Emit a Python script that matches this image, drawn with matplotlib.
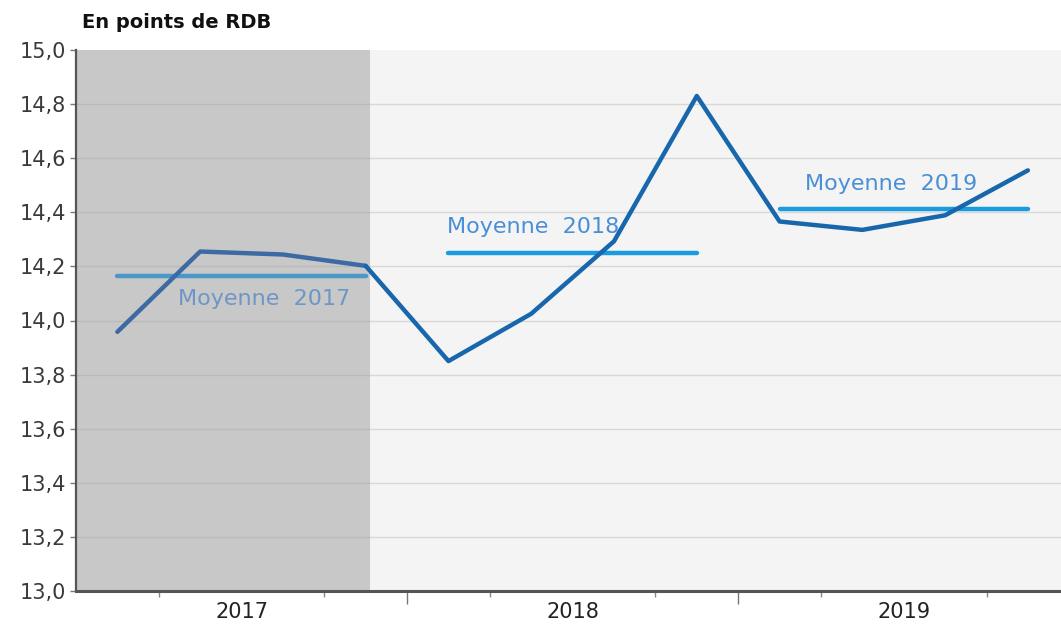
import numpy as np
import matplotlib
matplotlib.use("Agg")
import matplotlib.pyplot as plt

# quarterly values, 2017 Q1 -> 2019 Q4 (en points de RDB)
years = ["2017", "2018", "2019"]
values = [13.958, 14.255, 14.244, 14.202,
          13.850, 14.025, 14.293, 14.830,
          14.366, 14.335, 14.389, 14.555]
yearly_means = [14.165, 14.250, 14.411]
mean_labels = ["Moyenne  2017", "Moyenne  2018", "Moyenne  2019"]
y_ticks = [13.0, 13.2, 13.4, 13.6, 13.8, 14.0, 14.2, 14.4, 14.6, 14.8, 15.0]

x = np.arange(len(values)) + 0.5
n_hist = 4  # 2017 quarters shown on grey background

fig = plt.figure(figsize=(10.61, 6.30), dpi=100)
ax = fig.add_axes([76 / 1061, 39 / 630, 985 / 1061, 541 / 630])
ax.set_facecolor("#f4f4f4")

ax.set_xlim(0, 11.9)
ax.set_ylim(13.0, 15.0)

# grey band for 2017
ax.axvspan(0, x[n_hist - 1] + 0.05, color="#c8c8c8", zorder=0.5, lw=0)

for v in y_ticks[1:-1]:
    ax.axhline(v, color="#9a9a9a", alpha=0.3, lw=1, zorder=1)

# series
ax.plot(x[:n_hist], values[:n_hist], color="#3e6aa3", lw=3.2, zorder=4,
        solid_joinstyle="round", solid_capstyle="round")
ax.plot(x[n_hist - 1:], values[n_hist - 1:], color="#1867ad", lw=3.2, zorder=4,
        solid_joinstyle="round", solid_capstyle="round")

# yearly means
mean_colors = ["#4a97c9", "#1a9be0", "#1a9be0"]
text_colors = ["#6d96c6", "#4a8fd6", "#4a8fd6"]
text_pos = [(1.23, 14.08), (4.48, 14.345), (8.81, 14.506)]
for i, m in enumerate(yearly_means):
    ax.plot([x[4 * i], x[4 * i + 3]], [m, m], color=mean_colors[i], lw=3.2,
            solid_capstyle="round", zorder=3)
    ax.text(text_pos[i][0], text_pos[i][1], mean_labels[i], color=text_colors[i],
            fontsize=16, va="center", ha="left", zorder=5, family="DejaVu Sans")

# axes styling
for s in ["top", "right"]:
    ax.spines[s].set_visible(False)
ax.spines["left"].set_color("#555555")
ax.spines["left"].set_linewidth(1.6)
ax.spines["bottom"].set_color("#555555")
ax.spines["bottom"].set_linewidth(2.2)

ax.set_yticks(y_ticks)
ax.set_yticklabels([f"{v:.1f}".replace(".", ",") for v in y_ticks],
                   family="DejaVu Sans", fontsize=15, color="#3a3a3a")
ax.tick_params(axis="y", length=4, width=1, color="#777777", pad=3)

ax.set_xticks([2, 6, 10])
ax.set_xticklabels(years, family="DejaVu Sans", fontsize=15, color="#222222")
ax.tick_params(axis="x", which="major", length=0, pad=8)
ax.set_xticks([1, 2, 3, 5, 6, 7, 9, 10, 11], minor=True)
ax.tick_params(axis="x", which="minor", length=4, width=1, color="#888888")

sec = ax.secondary_xaxis("bottom")
sec.set_xticks([4, 8])
sec.set_xticklabels(["", ""])
sec.tick_params(length=9, width=1, color="#777777")
sec.spines["bottom"].set_visible(False)

fig.text(82 / 1061, 1 - 22 / 630, "En points de RDB", fontsize=14, fontweight="bold",
         va="center", ha="left", color="#111111", family="DejaVu Sans")

fig.savefig("out.png", dpi=100)
